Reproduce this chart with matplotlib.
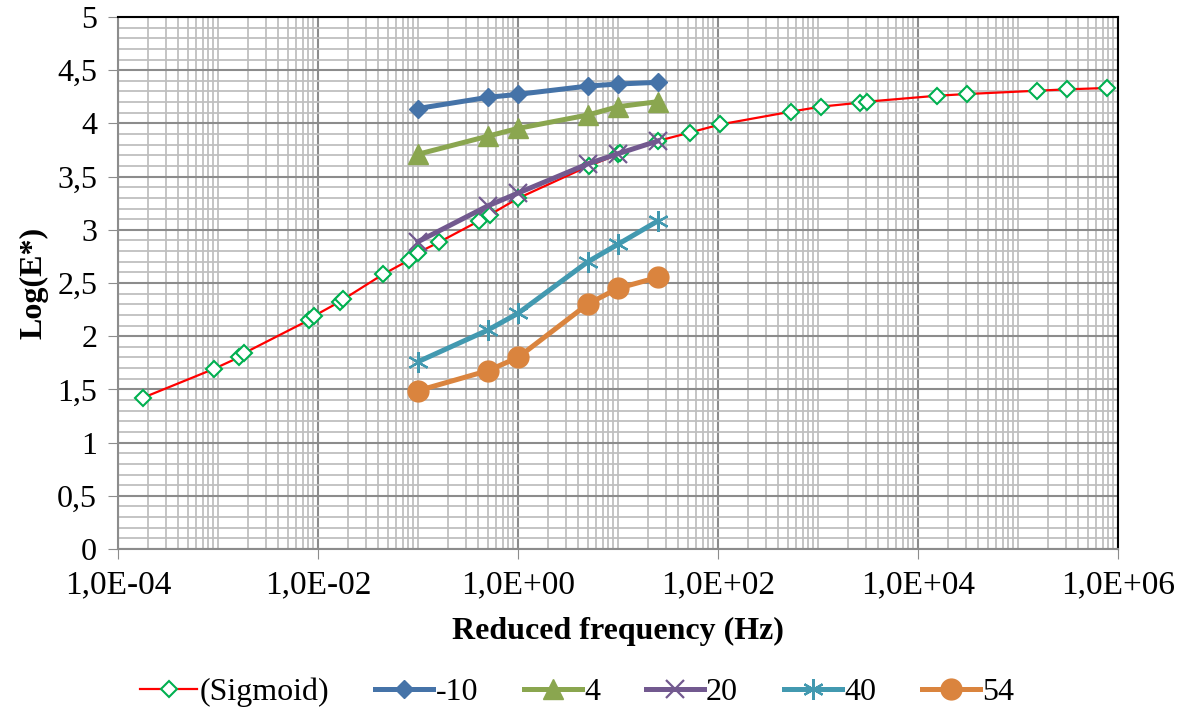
import numpy as np
import matplotlib.pyplot as plt
from matplotlib.ticker import FixedLocator, FuncFormatter, MultipleLocator

plt.rcParams['font.family'] = ['Liberation Serif', 'DejaVu Serif']

# Frecvente masurate (Hz) si Log(E*) pe temperaturi
freq = [0.1, 0.5, 1, 5, 10, 25]
e_m10 = [4.14, 4.245, 4.273, 4.351, 4.37, 4.386]
e_4 = [3.71, 3.88, 3.953, 4.079, 4.157, 4.204]
e_20 = [2.888, 3.225, 3.345, 3.62, 3.715, 3.835]
e_40 = [1.76, 2.058, 2.215, 2.70, 2.864, 3.083]
e_54 = [1.488, 1.676, 1.80, 2.303, 2.45, 2.553]

# Curba sigmoidala (frecventa redusa)
sig_freq = [1.78e-4, 9.06e-4, 1.61e-3, 1.81e-3, 8.13e-3, 9.12e-3, 1.65e-2, 1.78e-2,
            4.44e-2, 8.18e-2, 0.1, 0.162, 0.407, 0.52, 1.0, 5.1, 10, 10.4, 25, 52,
            105, 533, 1064, 2630, 3070, 15400, 30700, 154000, 307000, 782000]
sig_e = [1.422, 1.692, 1.80, 1.839, 2.152, 2.19, 2.324, 2.345, 2.58, 2.716, 2.785,
         2.883, 3.083, 3.14, 3.296, 3.60, 3.709, 3.72, 3.835, 3.913, 3.99, 4.11,
         4.157, 4.195, 4.204, 4.26, 4.276, 4.307, 4.32, 4.333]

fig = plt.figure(figsize=(11.87, 7.16), dpi=100)
ax = fig.add_axes([118 / 1187, 1 - 549 / 716, 1000 / 1187, 532 / 716])

ax.plot(sig_freq, sig_e, color="#FF0000", lw=1.6, marker="D", ms=8, mfc="white",
        mec="#00B050", mew=1.5, label="(Sigmoid)", zorder=3)
ax.plot(freq, e_m10, color="#4573A8", lw=3.6, marker="D", ms=9.5, label="-10", zorder=4)
ax.plot(freq, e_4, color="#8AA64F", lw=3.6, marker="^", ms=14, label="4", zorder=4)
ax.plot(freq, e_20, color="#72598F", lw=3.6, marker="x", ms=13, mew=1.6, label="20", zorder=4)
ax.plot(freq, e_40, color="#4299B0", lw=3.6, marker=(6, 2, 0), ms=15, mew=1.6, label="40", zorder=4)
ax.plot(freq, e_54, color="#DA843E", lw=3.6, marker="o", ms=15, label="54", zorder=4)

ax.set_xscale("log")
ax.set_xlim(1e-4, 1e6)
ax.set_ylim(0, 5)

ax.xaxis.set_major_locator(FixedLocator([10.0 ** k for k in range(-4, 7, 2)]))
minor = []
for k in range(-4, 6):
    for m in range(1, 10):
        v = m * 10.0 ** k
        if m == 1 and k % 2 == 0:
            continue
        minor.append(v)
ax.xaxis.set_minor_locator(FixedLocator(minor))
ax.xaxis.set_major_formatter(FuncFormatter(lambda v, p: "1,0E%+03d" % int(round(np.log10(v)))))
ax.xaxis.set_minor_formatter(FuncFormatter(lambda v, p: ""))

ax.yaxis.set_major_locator(MultipleLocator(0.5))
ax.yaxis.set_minor_locator(MultipleLocator(0.1))
ax.yaxis.set_major_formatter(FuncFormatter(lambda v, p: ("%g" % v).replace(".", ",")))

ax.grid(which="major", color="#8C8C8C", lw=1.5)
ax.grid(which="minor", color="#BFBFBF", lw=1.3)
ax.set_axisbelow(True)

ax.tick_params(which="major", direction="out", length=7, color="#8C8C8C", labelsize=23, pad=8)
ax.tick_params(axis="x", which="major", labelsize=24)
ax.tick_params(which="minor", length=0)
for s in ["left", "bottom"]:
    ax.spines[s].set_color("#8C8C8C")
    ax.spines[s].set_linewidth(1.5)
for s in ["top", "right"]:
    ax.spines[s].set_color("black")
    ax.spines[s].set_linewidth(1.5)

ax.set_xlabel("Reduced frequency (Hz)", fontsize=23, fontweight="bold", labelpad=12)
ax.set_ylabel("Log(E*)", fontsize=23, fontweight="bold", labelpad=6)

ax.legend(loc="center", bbox_to_anchor=(0.459, -0.269), ncol=6, frameon=False, fontsize=23,
          handlelength=1.8, handletextpad=0.08, columnspacing=1.44, borderpad=0)

fig.savefig("out.png", dpi=100)
